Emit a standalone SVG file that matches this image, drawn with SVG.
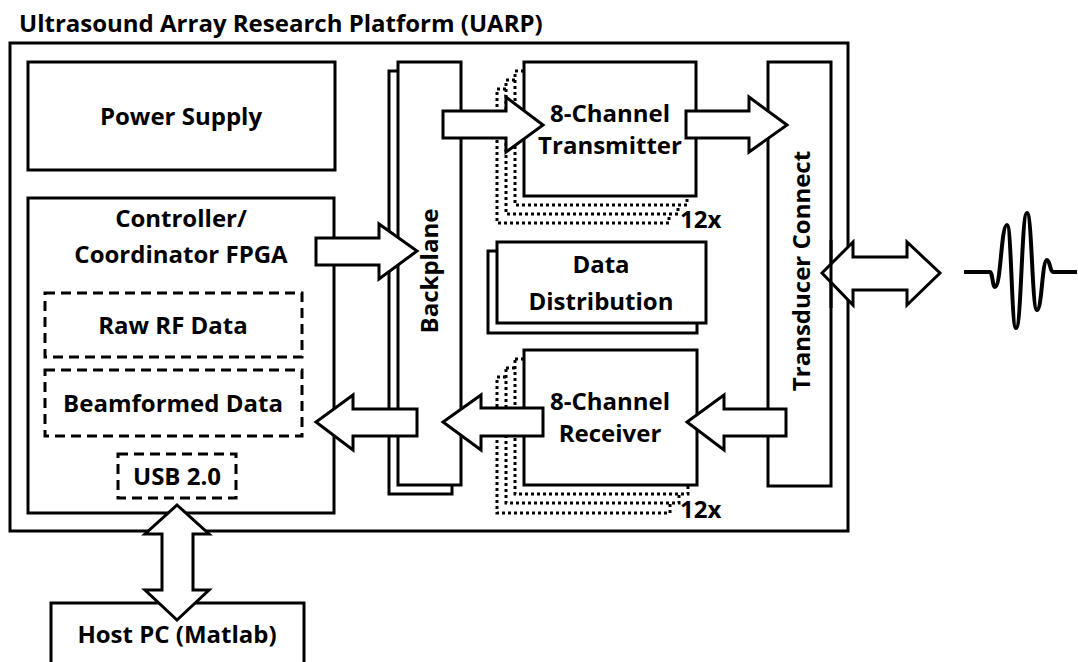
<svg xmlns="http://www.w3.org/2000/svg" width="1078" height="662" viewBox="0 0 1078 662">
  <style>
    .box { fill: #fff; stroke: #000; stroke-width: 3; }
    .dash { fill: none; stroke: #000; stroke-width: 3; stroke-dasharray: 10 6; }
    .dot { fill: #fff; stroke: #000; stroke-width: 3; stroke-dasharray: 3 3; }
    .arrow { fill: #fff; stroke: #000; stroke-width: 3; stroke-linejoin: miter; }
    .wave { fill: none; stroke: #000; stroke-width: 4; stroke-linejoin: round; }
    text { font-family: "Open Sans", "Liberation Sans", sans-serif; font-weight: bold; font-size: 24px; fill: #000; }
    .mid { text-anchor: middle; }
  </style>

  <text x="19" y="32">Ultrasound Array Research Platform (UARP)</text>

  <!-- platform enclosure -->
  <rect id="platform" class="box" x="10" y="43" width="838" height="488"/>

  <g id="power-supply">
    <rect class="box" x="28" y="62" width="307" height="108"/>
    <text class="mid" x="181" y="125">Power Supply</text>
  </g>

  <g id="controller">
    <rect class="box" x="28" y="198" width="306" height="315"/>
    <text class="mid" x="181" y="227">Controller/</text>
    <text class="mid" x="181" y="263">Coordinator FPGA</text>
  </g>
  <g id="raw-rf">
    <rect class="dash" x="45" y="293" width="257" height="64"/>
    <text class="mid" x="173" y="334">Raw RF Data</text>
  </g>
  <g id="beamformed">
    <rect class="dash" x="45" y="370" width="257" height="66"/>
    <text class="mid" x="173" y="412">Beamformed Data</text>
  </g>
  <g id="usb">
    <rect class="dash" x="118" y="454" width="118" height="44"/>
    <text class="mid" x="177" y="485">USB 2.0</text>
  </g>

  <g id="backplane">
    <rect class="box" x="389" y="71" width="63" height="423"/>
    <rect class="box" x="398" y="62" width="63" height="423"/>
    <text class="mid" transform="translate(438,271) rotate(-90)">Backplane</text>
  </g>

  <g id="transmitter">
    <rect class="dot" x="497" y="89" width="172" height="134"/>
    <rect class="dot" x="506" y="80" width="172" height="134"/>
    <rect class="dot" x="515" y="71" width="172" height="134"/>
    <rect class="box" x="524" y="62" width="172" height="134"/>
    <text class="mid" x="610" y="122">8-Channel</text>
    <text class="mid" x="610" y="154">Transmitter</text>
    <text x="680" y="228">12x</text>
  </g>

  <g id="data-distribution">
    <rect class="box" x="488" y="251" width="209" height="82"/>
    <rect class="box" x="497" y="242" width="209" height="81"/>
    <text class="mid" x="601" y="273">Data</text>
    <text class="mid" x="601" y="310">Distribution</text>
  </g>

  <g id="receiver">
    <rect class="dot" x="497" y="377" width="173" height="136"/>
    <rect class="dot" x="506" y="368" width="173" height="135"/>
    <rect class="dot" x="515" y="359" width="173" height="135"/>
    <rect class="box" x="524" y="350" width="173" height="135"/>
    <text class="mid" x="610" y="410">8-Channel</text>
    <text class="mid" x="610" y="442">Receiver</text>
    <text x="680" y="518">12x</text>
  </g>

  <g id="transducer-connect">
    <rect class="box" x="768" y="62" width="63" height="424"/>
    <text class="mid" transform="translate(810,271) rotate(-90)">Transducer Connect</text>
  </g>

  <g id="host-pc">
    <rect class="box" x="51" y="603" width="253" height="70"/>
    <text class="mid" x="177" y="643">Host PC (Matlab)</text>
  </g>

  <g id="pulse">
    <path class="wave" d="M964,272 L990,272 C992.5,272 992.5,287 995,287 C1001,287 1001,225 1007,225 C1011.5,225 1011.5,328 1016,328 C1021.5,328 1021.5,213 1027,213 C1032,213 1032,310 1037,310 C1042,310 1042,260 1047,260 C1050,260 1050,272 1053,272 L1077,272"/>
  </g>

  <g id="connectors">
    <!-- controller to backplane -->
    <polygon class="arrow" points="316,238 379,238 379,224 417,251 379,279 379,265 316,265"/>
    <!-- backplane to transmitter -->
    <polygon class="arrow" points="443,111 506,111 506,97 543,125 506,152 506,138 443,138"/>
    <!-- transmitter to transducer connect -->
    <polygon class="arrow" points="686,111 749,111 749,97 787,125 749,152 749,138 686,138"/>
    <!-- transducer connect to receiver -->
    <polygon class="arrow" points="786,409 724,409 724,395 687,422 724,450 724,436 786,436"/>
    <!-- receiver to backplane -->
    <polygon class="arrow" points="543,408 481,408 481,395 443,422 481,450 481,436 543,436"/>
    <!-- backplane to controller -->
    <polygon class="arrow" points="417,409 353,409 353,395 316,422 353,450 353,436 417,436"/>
    <!-- transducer connect to probe, bidirectional -->
    <polygon class="arrow" points="822,273 853,242 853,257 907,257 907,242 940,273 907,305 907,290 853,290 853,305"/>
    <line x1="831" y1="240" x2="831" y2="308" stroke="#000" stroke-width="3"/>
    <!-- USB to host PC, bidirectional -->
    <polygon class="arrow" points="177,505 209,534 193,534 193,590 209,590 177,620 145,590 162,590 162,534 145,534"/>
  </g>
</svg>
